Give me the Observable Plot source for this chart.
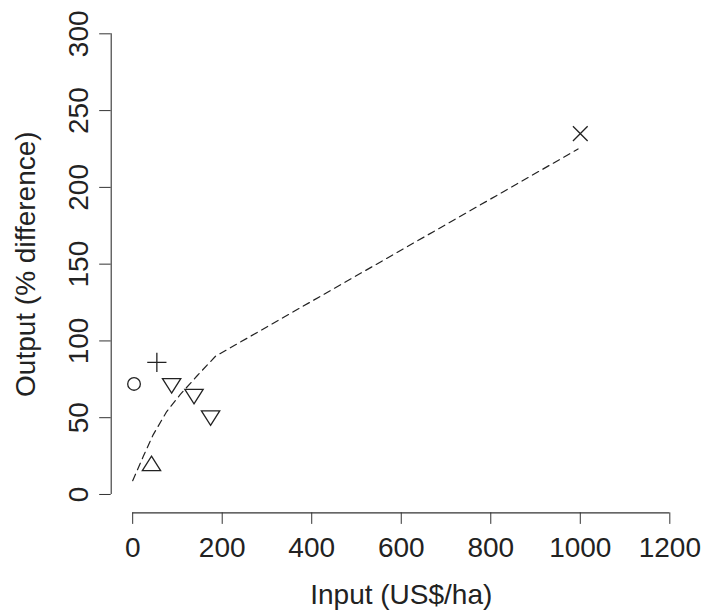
<!DOCTYPE html>
<html>
<head>
<meta charset="utf-8">
<script src="https://cdn.jsdelivr.net/npm/d3@7"></script>
<script src="https://cdn.jsdelivr.net/npm/@observablehq/plot@0.6"></script>
<style>
  html, body { margin: 0; padding: 0; background: #fff; }
  svg { display: block; }
</style>
</head>
<body>
<script>
// ---- data ----
const inputs  = [3, 54, 87, 137, 174, 42, 1000];     // US$/ha
const outputs = [72, 86, 72, 65, 51, 19, 235];        // % difference
const shapes  = ["circle", "plus", "triDown", "triDown", "triDown", "triUp", "cross"];

const curveX = [0, 24, 46, 76, 106, 143, 185, 995];
const curveY = [9, 25, 39, 54, 65, 77, 90, 225];

const xTicks = [0, 200, 400, 600, 800, 1000, 1200];
const yTicks = [0, 50, 100, 150, 200, 250, 300];
const xLim = [0, 1200];
const yLim = [0, 300];

// R-style 4% extension of the limits
const xPad = 0.04 * (xLim[1] - xLim[0]);
const yPad = 0.04 * (yLim[1] - yLim[0]);
const xDomain = [xLim[0] - xPad, xLim[1] + xPad];
const yDomain = [yLim[0] - yPad, yLim[1] + yPad];

const points = inputs.map((x, i) => ({x, y: outputs[i], shape: shapes[i]}));
const curve = curveX.map((x, i) => ({x, y: curveY[i]}));

// ---- R-like plotting symbols ----
const rad = s => Math.sqrt(s / Math.PI);
const symbolDefs = {
  circle: {draw(c, s) { const r = rad(s) * 0.93; c.moveTo(r, 0); c.arc(0, 0, r, 0, 2 * Math.PI); }},
  plus: {draw(c, s) { const k = 1.414 * rad(s); c.moveTo(-k, 0); c.lineTo(k, 0); c.moveTo(0, -k); c.lineTo(0, k); }},
  cross: {draw(c, s) { const k = 1.08 * rad(s); c.moveTo(-k, -k); c.lineTo(k, k); c.moveTo(-k, k); c.lineTo(k, -k); }},
  triUp: {draw(c, s) { const xc = 1.555 * rad(s), r = 0.866 * xc, yc = 0.5 * xc; c.moveTo(0, -r); c.lineTo(r, yc); c.lineTo(-r, yc); c.closePath(); }},
  triDown: {draw(c, s) { const xc = 1.555 * rad(s), r = 0.866 * xc, yc = 0.5 * xc; c.moveTo(0, r); c.lineTo(r, -yc); c.lineTo(-r, -yc); c.closePath(); }}
};

const FONT = 28;
const ink = "#222";

const dotMarks = Object.keys(symbolDefs).map(name =>
  Plot.dot(points.filter(d => d.shape === name), {
    x: "x", y: "y", r: 6.8, symbol: symbolDefs[name],
    fill: "none", stroke: ink, strokeWidth: 1.3
  })
);

const chart = Plot.plot({
  width: 702,
  height: 610,
  marginLeft: 110.7,
  marginRight: 11.2,
  marginTop: 14.9,
  marginBottom: 97.6,
  style: {fontFamily: "'Liberation Sans', Arial, sans-serif", color: ink, background: "#fff"},
  x: {domain: xDomain},
  y: {domain: yDomain},
  marks: [
    // axis lines (span first to last tick, like R)
    Plot.ruleY([yDomain[0]], {x1: xLim[0], x2: xLim[1], stroke: "#333", strokeWidth: 1.1}),
    Plot.ruleX([xDomain[0]], {y1: yLim[0], y2: yLim[1], stroke: "#333", strokeWidth: 1.1}),
    Plot.axisX({
      ticks: xTicks, tickSize: 11.5, tickPadding: 13, fontSize: FONT,
      tickFormat: d3.format("d"), label: null, stroke: "#333"
    }),
    Plot.axisY({
      ticks: yTicks, tickSize: 11.5, tickFormat: () => "", label: null, stroke: "#333"
    }),
    // rotated y tick labels
    Plot.text(yTicks, {
      y: d => d, text: d => String(d), frameAnchor: "left", dx: -23.4,
      rotate: -90, textAnchor: "middle", lineAnchor: "bottom", fontSize: FONT, fill: ink
    }),
    // axis titles
    Plot.text(["Input (US$/ha)"], {
      text: d => d, frameAnchor: "bottom", dy: 90.6, lineAnchor: "bottom",
      textAnchor: "middle", fontSize: FONT, fill: ink
    }),
    Plot.text(["Output (% difference)"], {
      text: d => d, frameAnchor: "left", dx: -76.2, rotate: -90,
      lineAnchor: "bottom", textAnchor: "middle", fontSize: FONT, fill: ink
    }),
    // fitted dashed curve
    Plot.line(curve, {x: "x", y: "y", stroke: ink, strokeWidth: 1.2, strokeDasharray: "7,5"}),
    ...dotMarks
  ]
});

document.body.appendChild(chart);
</script>
</body>
</html>
